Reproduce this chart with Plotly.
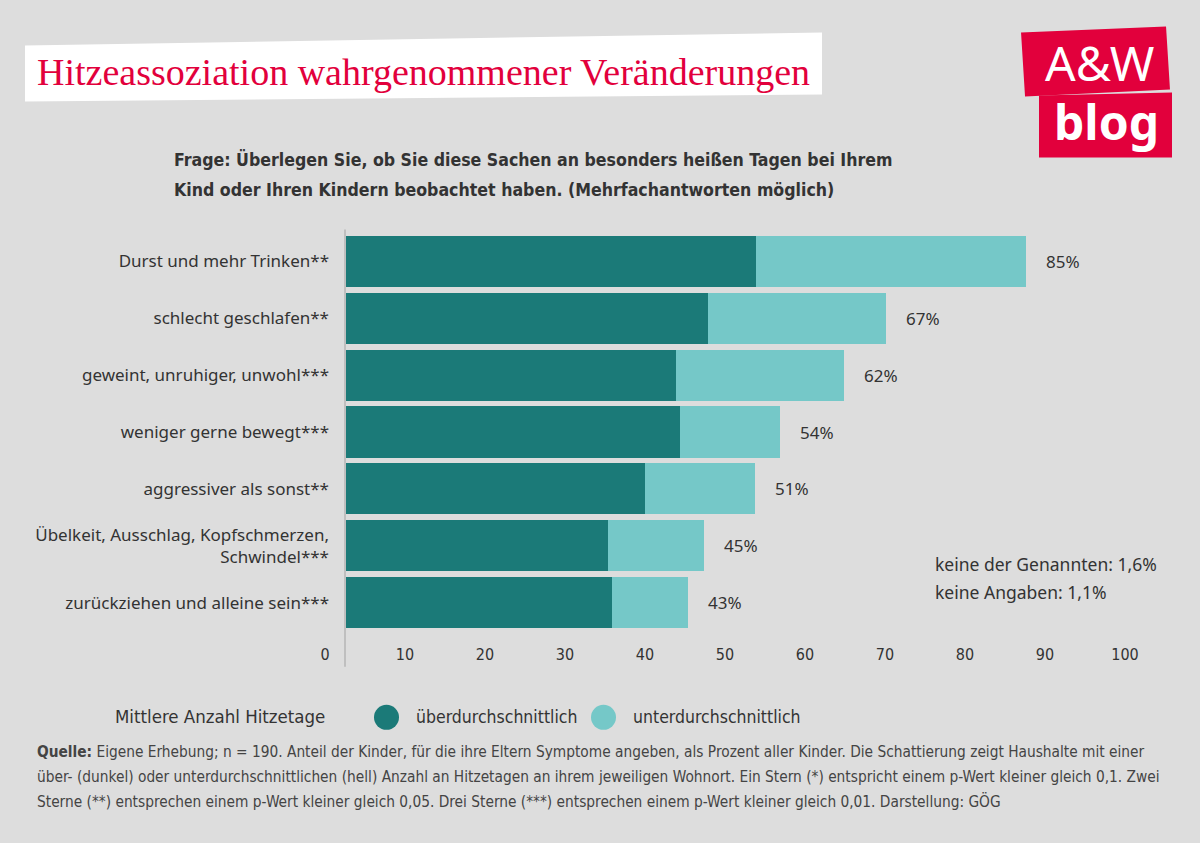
import plotly.graph_objects as go

# ---------------- data ----------------
categories = [
    "Durst und mehr Trinken**",
    "schlecht geschlafen**",
    "geweint, unruhiger, unwohl***",
    "weniger gerne bewegt***",
    "aggressiver als sonst**",
    "Übelkeit, Ausschlag, Kopfschmerzen,<br>Schwindel***",
    "zurückziehen und alleine sein***",
]
ueber = [51.2, 45.3, 41.2, 41.8, 37.4, 32.7, 33.3]   # dark: überdurchschnittlich
unter = [33.8, 22.2, 21.0, 12.5, 13.7, 12.1, 9.4]    # light: unterdurchschnittlich
total_labels = ["85%", "67%", "62%", "54%", "51%", "45%", "43%"]
x_ticks = [0, 10, 20, 30, 40, 50, 60, 70, 80, 90, 100]
side_notes = ["keine der Genannten: 1,6%", "keine Angaben: 1,1%"]

# ---------------- style ----------------
BG = "#dddddd"
DARK = "#1b7a78"
LIGHT = "#75c8c8"
RED = "#e2003c"
TXT = "#333333"
FONT = "Noto Sans, Lato, sans-serif"
NARROW = "DejaVu Sans Condensed, sans-serif"

W, H = 1200, 843
L, R = 346, 1146          # plot area pixels
T, B = 233.4, 631.2
def X(px):
    return (px - L) / (R - L)
def Y(py):
    return (B - py) / (B - T)

fig = go.Figure()
fig.add_trace(go.Bar(y=categories, x=ueber, orientation="h", name="überdurchschnittlich",
                     marker=dict(color=DARK, line=dict(width=0)), showlegend=False,
                     hoverinfo="x+y"))
fig.add_trace(go.Bar(y=categories, x=unter, orientation="h", name="unterdurchschnittlich",
                     marker=dict(color=LIGHT, line=dict(width=0)), showlegend=False,
                     hoverinfo="x+y"))

annotations = []
# total labels
for cat, a, b, lab in zip(categories, ueber, unter, total_labels):
    annotations.append(dict(x=a + b, y=cat, xref="x", yref="y", text=lab, showarrow=False,
                            xanchor="left", xshift=18, font=dict(family=FONT, size=17, color=TXT)))

# title
annotations.append(dict(x=X(35), y=Y(72), xref="paper", yref="paper", xanchor="left", yanchor="middle",
                        text="Hitzeassoziation wahrgenommener Veränderungen", showarrow=False,
                        font=dict(family="Liberation Serif, serif", size=38, color=RED)))
# subtitle
for i, line in enumerate(["Frage: Überlegen Sie, ob Sie diese Sachen an besonders heißen Tagen bei Ihrem",
                          "Kind oder Ihren Kindern beobachtet haben. (Mehrfachantworten möglich)"]):
    annotations.append(dict(x=X(172), y=Y(160 + 30 * i), xref="paper", yref="paper", xanchor="left",
                            yanchor="middle", text="<b>" + line + "</b>", showarrow=False,
                            font=dict(family=NARROW, size=17.6, color=TXT)))
# side notes
for i, t in enumerate(side_notes):
    annotations.append(dict(x=X(933), y=Y(564 + 28 * i), xref="paper", yref="paper", xanchor="left",
                            yanchor="middle", text=t, showarrow=False,
                            font=dict(family=FONT, size=17.5, color=TXT)))
# legend (manual)
annotations.append(dict(x=X(113), y=Y(717), xref="paper", yref="paper", xanchor="left", yanchor="middle",
                        text="Mittlere Anzahl Hitzetage", showarrow=False,
                        font=dict(family=NARROW, size=18.5, color=TXT)))
annotations.append(dict(x=X(414), y=Y(717), xref="paper", yref="paper", xanchor="left", yanchor="middle",
                        text="überdurchschnittlich", showarrow=False,
                        font=dict(family=NARROW, size=17.5, color=TXT)))
annotations.append(dict(x=X(631), y=Y(717), xref="paper", yref="paper", xanchor="left", yanchor="middle",
                        text="unterdurchschnittlich", showarrow=False,
                        font=dict(family=NARROW, size=17.5, color=TXT)))
# footnote
foot = [
    "<b>Quelle:</b> Eigene Erhebung; n = 190. Anteil der Kinder, für die ihre Eltern Symptome angeben, als Prozent aller Kinder. Die Schattierung zeigt Haushalte mit einer",
    "über- (dunkel) oder unterdurchschnittlichen (hell) Anzahl an Hitzetagen an ihrem jeweiligen Wohnort. Ein Stern (*) entspricht einem p-Wert kleiner gleich 0,1. Zwei",
    "Sterne (**) entsprechen einem p-Wert kleiner gleich 0,05. Drei Sterne (***) entsprechen einem p-Wert kleiner gleich 0,01. Darstellung: GÖG",
]
for i, t in enumerate(foot):
    annotations.append(dict(x=X(35), y=Y(752 + 25 * i), xref="paper", yref="paper", xanchor="left",
                            yanchor="middle", text=t, showarrow=False,
                            font=dict(family=NARROW, size=15.3, color="#444444")))
# logo text
annotations.append(dict(x=X(1100), y=Y(63), xref="paper", yref="paper", xanchor="center", yanchor="middle",
                        text="A&amp;W", showarrow=False,
                        font=dict(family="Noto Sans, sans-serif", size=48, color="white")))
annotations.append(dict(x=X(1106), y=Y(122), xref="paper", yref="paper", xanchor="center", yanchor="middle",
                        text="<b>blog</b>", showarrow=False,
                        font=dict(family="Noto Sans, sans-serif", size=48, color="white")))

def path(pts):
    return "M " + " L ".join(f"{X(a):.5f},{Y(b):.5f}" for a, b in pts) + " Z"

shapes = [
    # title white box
    dict(type="path", xref="paper", yref="paper", path=path([(25, 46), (822, 33), (822, 95), (25, 102)]),
         fillcolor="white", line=dict(width=0), layer="below"),
    # logo boxes
    dict(type="path", xref="paper", yref="paper", path=path([(1021, 33), (1166, 27), (1170, 90), (1025, 97)]),
         fillcolor=RED, line=dict(width=0), layer="below"),
    dict(type="path", xref="paper", yref="paper", path=path([(1039, 96), (1172, 93), (1172, 158), (1039, 158)]),
         fillcolor=RED, line=dict(width=0), layer="below"),
    # axis line
    dict(type="line", xref="paper", yref="paper", x0=X(345), x1=X(345), y0=Y(230), y1=Y(667),
         line=dict(color="#b5b5b5", width=1.5)),
    # legend circles
    dict(type="circle", xref="paper", yref="paper", x0=X(374), x1=X(399), y0=Y(705), y1=Y(730),
         fillcolor=DARK, line=dict(width=0)),
    dict(type="circle", xref="paper", yref="paper", x0=X(591), x1=X(616), y0=Y(705), y1=Y(730),
         fillcolor=LIGHT, line=dict(width=0)),
]

fig.update_layout(
    width=W, height=H,
    margin=dict(l=L, r=W - R, t=T, b=H - B, pad=0),
    paper_bgcolor=BG, plot_bgcolor=BG,
    barmode="stack", bargap=0.1,
    showlegend=False,
    annotations=annotations, shapes=shapes,
    xaxis=dict(range=[0, 100], tickvals=x_ticks, ticktext=[str(v) for v in x_ticks],
               showgrid=False, zeroline=False, showline=False, ticks="",
               ticklabelshift=-21, ticklabelstandoff=12,
               tickfont=dict(family=NARROW, size=16, color=TXT), fixedrange=True),
    yaxis=dict(autorange="reversed", showgrid=False, zeroline=False, showline=False, ticks="",
               ticklabelstandoff=16, tickfont=dict(family=FONT, size=17, color=TXT), fixedrange=True),
)

fig.write_html("out.html")
